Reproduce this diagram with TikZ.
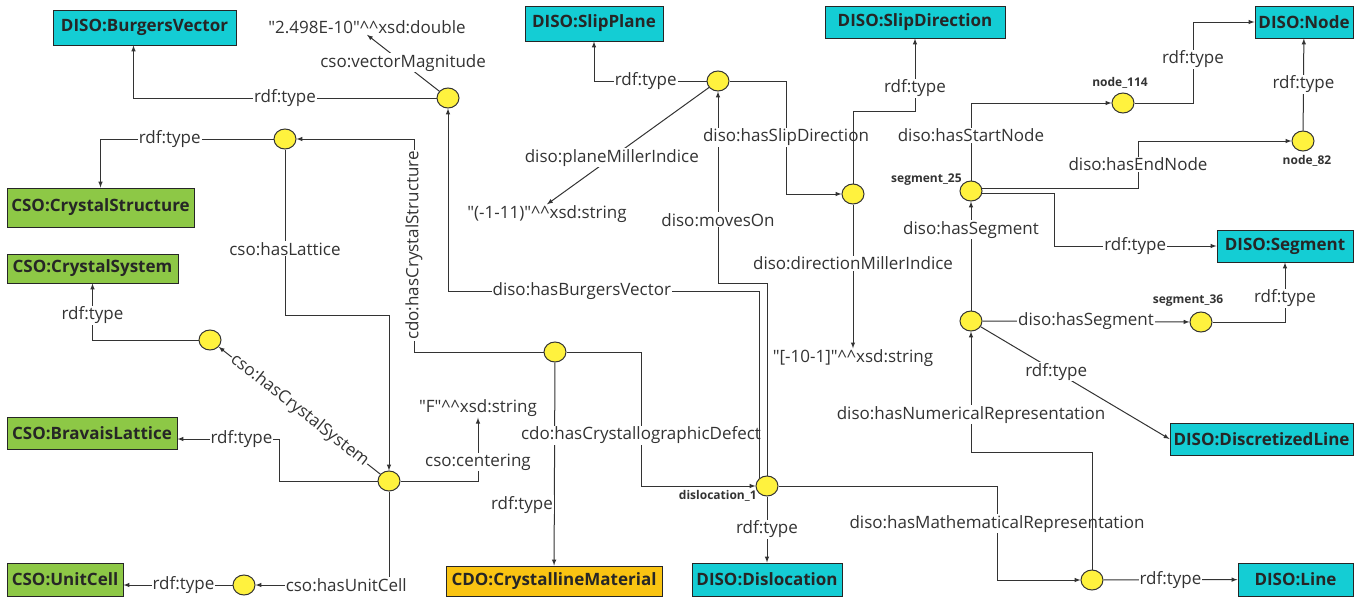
\documentclass[tikz,border=0pt]{standalone}
\usepackage{fontspec}
\setmainfont{Open Sans}
\usetikzlibrary{positioning}
\usetikzlibrary{shapes.geometric}

\definecolor{disocyan}{RGB}{20,205,212}
\definecolor{csogreen}{RGB}{141,200,70}
\definecolor{cdoorange}{RGB}{250,196,18}
\definecolor{blankyellow}{RGB}{255,242,62}
\definecolor{edgegray}{RGB}{51,51,51}

\begin{document}
\begin{tikzpicture}[x=1pt,y=-1pt,>=latex,
    blank/.style={ellipse,draw=edgegray,fill=blankyellow,line width=1pt,minimum width=22pt,minimum height=20pt,inner sep=0pt},
    cls/.style={draw=black!85,line width=1pt,inner sep=0pt,text=black!85,font=\fontsize{17}{20}\selectfont\bfseries},
    lit/.style={inner sep=1pt,text=edgegray,font=\fontsize{17}{20}\selectfont},
    lbl/.style={fill=white,inner sep=1pt,text=edgegray,font=\fontsize{17}{20}\selectfont},
    bname/.style={inner sep=0pt,text=edgegray,font=\fontsize{12}{14}\selectfont\bfseries},
    link/.style={draw=edgegray,line width=1pt}]
    \useasboundingbox (0,0) rectangle (1369,600);

    \node (burgers) [cls,fill=disocyan,minimum width=183pt,minimum height=35pt] at (144.5,27.5) {DISO:BurgersVector};
    \node (cstruct) [cls,fill=csogreen,minimum width=187pt,minimum height=39pt] at (100.5,207.5) {CSO:CrystalStructure};
    \node (csysbox) [cls,fill=csogreen,minimum width=171pt,minimum height=29pt] at (92.5,268.5) {CSO:CrystalSystem};
    \node (bravais) [cls,fill=csogreen,minimum width=170pt,minimum height=32pt] at (92,433) {CSO:BravaisLattice};
    \node (ucbox) [cls,fill=csogreen,minimum width=116pt,minimum height=33pt] at (65,579.5) {CSO:UnitCell};
    \node (cmat) [cls,fill=cdoorange,minimum width=216pt,minimum height=30pt] at (554,581) {CDO:CrystallineMaterial};
    \node (dislo) [cls,fill=disocyan,minimum width=150pt,minimum height=33pt] at (767,579.5) {DISO:Dislocation};
    \node (slipplane) [cls,fill=disocyan,minimum width=138pt,minimum height=35pt] at (594,23.5) {DISO:SlipPlane};
    \node (sdir) [cls,fill=disocyan,minimum width=180pt,minimum height=32pt] at (915,22) {DISO:SlipDirection};
    \node (nodebox) [cls,fill=disocyan,minimum width=98pt,minimum height=32pt] at (1304,22) {DISO:Node};
    \node (segbox) [cls,fill=disocyan,minimum width=136pt,minimum height=32pt] at (1285,246) {DISO:Segment};
    \node (dlbox) [cls,fill=disocyan,minimum width=183pt,minimum height=32pt] at (1261.5,439) {DISO:DiscretizedLine};
    \node (linebox) [cls,fill=disocyan,minimum width=115pt,minimum height=33pt] at (1295.5,579.5) {DISO:Line};

    \node (bv) [blank] at (448,98) {};
    \node (cs) [blank] at (285,139) {};
    \node (sp) [blank] at (718,81) {};
    \node (sd) [blank] at (853,194) {};
    \node (csys) [blank] at (210,340) {};
    \node (mat) [blank] at (555,352) {};
    \node (lat) [blank] at (389,481) {};
    \node (uc) [blank] at (244,585) {};
    \node (dis) [blank] at (767,486) {};
    \node (seg25) [blank] at (971,191) {};
    \node (n114) [blank] at (1123,103) {};
    \node (n82) [blank] at (1303,141) {};
    \node (dline) [blank] at (971,321) {};
    \node (seg36) [blank] at (1201,322) {};
    \node (line) [blank] at (1092,580) {};

    \node (n114name) [bname,above=4pt of n114,xshift=-3pt] {node\_114};
    \node (n82name) [bname,below=4pt of n82,xshift=4pt] {node\_82};
    \node (seg25name) [bname,above left=-2pt and 1pt of seg25] {segment\_25};
    \node (seg36name) [bname,above=5pt of seg36,xshift=-13pt] {segment\_36};
    \node (disname) [bname,below left=-3pt and 2pt of dis] {dislocation\_1};

    \node (mag) [lit] at (367,27) {\textquotedbl 2.498E-10\textquotedbl\textasciicircum\textasciicircum xsd:double};
    \node (pm) [lit] at (547,214) {\textquotedbl(-1-11)\textquotedbl\textasciicircum\textasciicircum xsd:string};
    \node (dm) [lit] at (853,358) {\textquotedbl[-10-1]\textquotedbl\textasciicircum\textasciicircum xsd:string};
    \node (fl) [lit] at (478,408) {\textquotedbl F\textquotedbl\textasciicircum\textasciicircum xsd:string};

    \draw[link,->] (bv) -| node[lbl,pos=0.25] {rdf:type} ([xshift=-11pt]burgers.south);
    \draw[link,->] (bv) -- node[lbl] {cso:vectorMagnitude} (mag.south);
    \draw[link,->] (cs) -| node[lbl,pos=0.3] {rdf:type} (cstruct);
    \draw[link,->] (cs) -- node[lbl,pos=0.6] {cso:hasLattice} (cs |- 0,315) -| (lat);
    \draw[link,->] (mat) -| node[lbl,rotate=90,pos=0.75] {cdo:hasCrystalStructure} (414,139) -- (cs);
    \draw[link,->] (mat) -- node[lbl,left,pos=0.7] {rdf:type} (cmat);
    \draw[link,->] (mat) -| node[lbl,pos=0.81] {cdo:hasCrystallographicDefect} (641,486) -- (dis);
    \draw[link,->] (dis.135) |- node[lbl,pos=0.785] {diso:hasBurgersVector} (bv |- 0,291) -- (bv);
    \draw[link,->] (dis) |- (sp |- 0,283) -- node[lbl,pos=0.33] {diso:movesOn} (sp);
    \draw[link,->] (sp) -| node[lbl,pos=0.27] {rdf:type} (slipplane);
    \draw[link,->] (sp) -- node[lbl,pos=0.6] {diso:planeMillerIndice} (pm.north);
    \draw[link,->] (sp) -| node[lbl,pos=0.75] {diso:hasSlipDirection} (786,194) -- (sd);
    \draw[link,->] (sd) |- (sdir |- 0,111) -- node[lbl,pos=0.31] {rdf:type} (sdir);
    \draw[link,->] (sd) -- node[lbl,pos=0.41] {diso:directionMillerIndice} (dm);
    \draw[link,->] (dis) -- node[lbl] {rdf:type} (dislo);
    \draw[link,->] (dis) -| node[lbl,pos=0.7] {diso:hasMathematicalRepresentation} (997,580) -- (line);
    \draw[link,->] (line) -- node[lbl] {rdf:type} (linebox);
    \draw[link,->] (line) |- (dline |- 0,452) -- node[lbl,pos=0.31] {diso:hasNumericalRepresentation} (dline);
    \draw[link,->] (dline) -- node[lbl,pos=0.74] {diso:hasSegment} (seg25);
    \draw[link,->] (dline) -- node[lbl] {diso:hasSegment} (seg36);
    \draw[link,->] (dline) -- node[lbl,pos=0.4] {rdf:type} (dlbox.west);
    \draw[link,->] (seg36) -| node[lbl,pos=0.7] {rdf:type} (segbox);
    \draw[link,->] (seg25.-15) -| (1054,246) -- node[lbl] {rdf:type} (segbox);
    \draw[link,->] (seg25) |- node[lbl,pos=0.29] {diso:hasStartNode} (n114);
    \draw[link,->] (seg25.15) -| node[lbl,pos=0.75] {diso:hasEndNode} (1138,141) -- (n82);
    \draw[link,->] (n114) -| node[lbl,pos=0.77] {rdf:type} (1193,22) -- (nodebox);
    \draw[link,->] (n82) -- node[lbl] {rdf:type} (nodebox);
    \draw[link,->] (lat) -- node[lbl,sloped] {cso:hasCrystalSystem} (csys);
    \draw[link,->] (lat) -| (279,439) -- node[lbl,pos=0.37] {rdf:type} (bravais.east |- 0,439);
    \draw[link,->] (lat) -| node[lbl,pos=0.65] {cso:centering} (fl);
    \draw[link,->] (lat) |- node[lbl,pos=0.66] {cso:hasUnitCell} (uc);
    \draw[link,->] (uc) -- node[lbl,pos=0.45] {rdf:type} (uc -| ucbox.east);
    \draw[link,->] (csys) -| node[lbl,pos=0.72] {rdf:type} (csysbox);
\end{tikzpicture}
\end{document}
